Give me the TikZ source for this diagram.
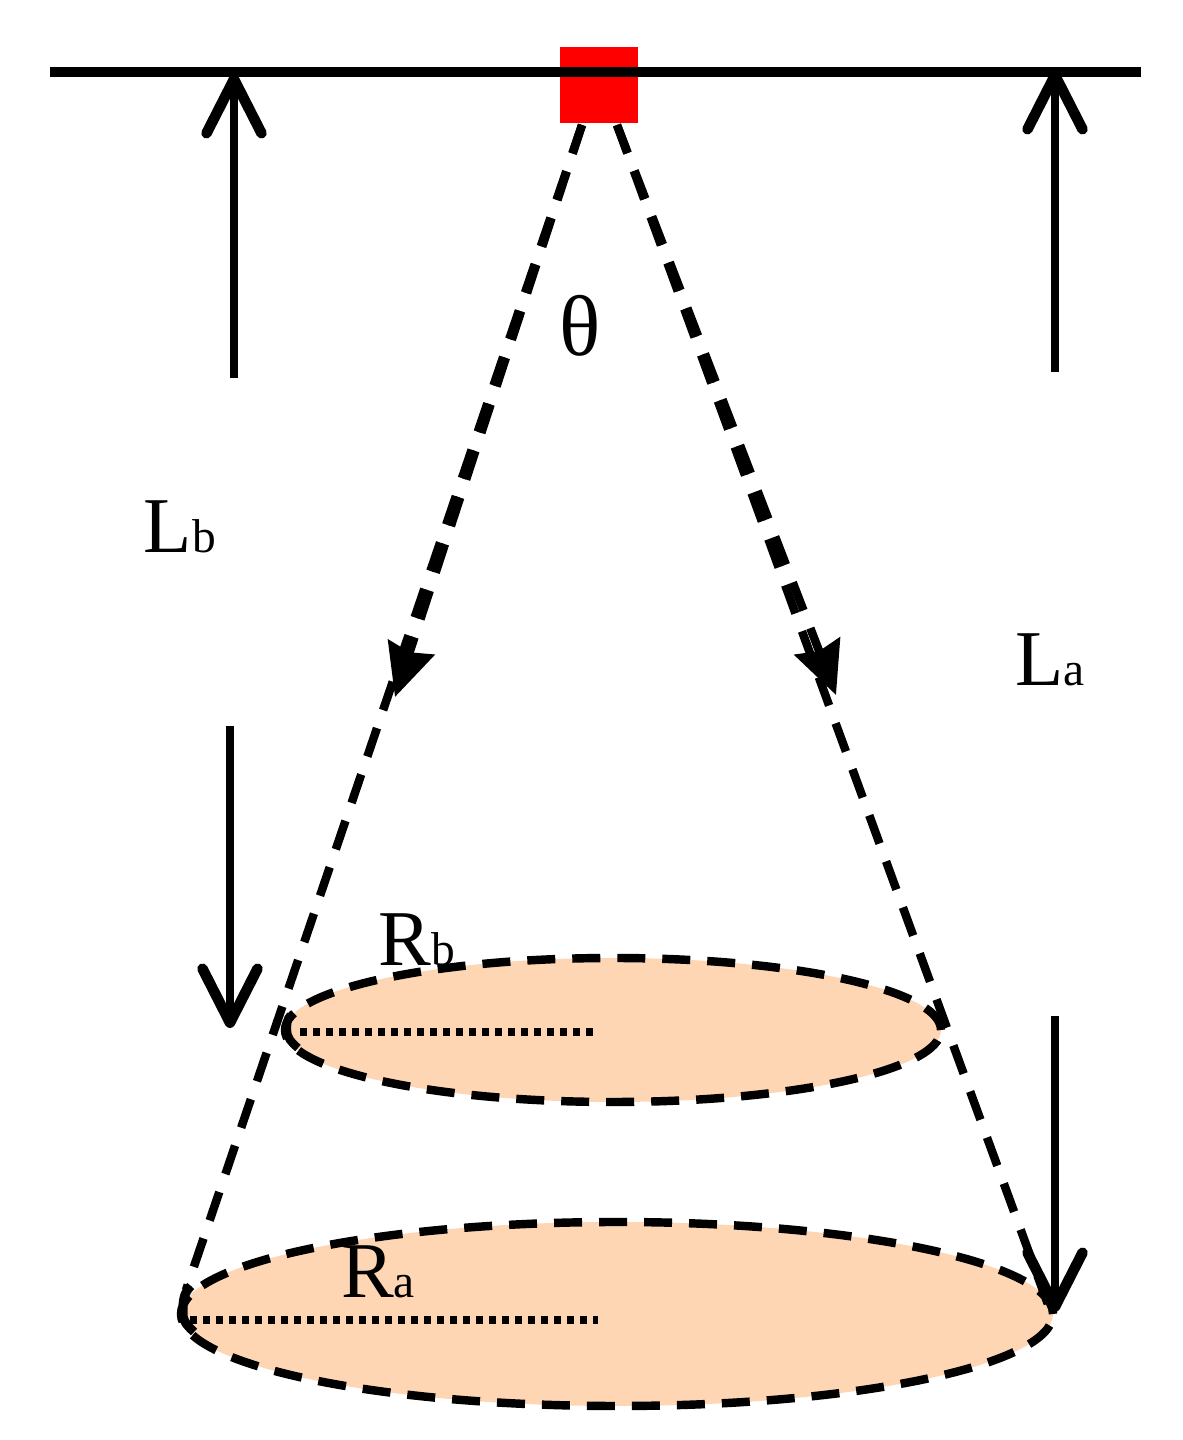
\documentclass[tikz,border=0pt]{standalone}
\usepackage{fontspec}
\setmainfont{Liberation Serif}
\usepackage{tikz}
\usetikzlibrary{arrows.meta,shapes.geometric}
\definecolor{spotfill}{HTML}{FED6B3}
\newcommand{\lab}[2]{{\fontsize{22.5}{24}\selectfont #1}{\fontsize{13.5}{15}\selectfont #2}}

\begin{document}
\begin{tikzpicture}
    \tikzset{
    ceiling/.style={line width=2.8pt},
    source/.style={rectangle,minimum width=0.78cm,minimum height=0.76cm,inner sep=0pt,fill=red},
    spot/.style={ellipse,inner sep=0pt,fill=spotfill,draw=black,line width=2.4pt,dash pattern=on 0.28cm off 0.17cm},
    ray/.style={line width=2.4pt,dash pattern=on 0.30cm off 0.19cm},
    rayhead/.style={ray,-{Stealth[length=0.52cm,width=0.48cm,inset=0.05cm]}},
    radius/.style={line width=2.3pt,dash pattern=on 0.07cm off 0.06cm},
    dist/.style={line width=2.4pt,-{Straight Barb[length=0.54cm,width=0.55cm,round,line width=3pt]}},
    lbl/.style={inner sep=0pt},
    }
    \useasboundingbox (0,0) rectangle (11.82,14.4);

    \node[spot,minimum width=6.56cm,minimum height=1.44cm] (Sb) at (6.13,4.10) {};
    \node[spot,minimum width=8.72cm,minimum height=1.84cm] (Sa) at (6.17,1.26) {};
    \draw[line width=2.4pt] (Sb.west) ++(0.10,0.15) to[out=225,in=90] (2.87,4.10) to[out=-90,in=140] (2.98,3.92);
    \draw[line width=2.6pt] (Sa.west) ++(0.14,0.28) to[out=225,in=90] (1.83,1.26) to[out=-90,in=135] (1.94,1.08);

    \node[source] (src) at (5.99,13.55) {};
    \coordinate (wl) at (0.50,13.68);
    \coordinate (wr) at (11.41,13.68);
    \draw[ceiling] (wl) -- (wr);

    \coordinate (rl) at (5.82,13.15);
    \coordinate (rr) at (6.17,13.15);
    \coordinate (hl) at (3.95,7.43);
    \coordinate (hr) at (8.36,7.45);
    \coordinate (el) at (1.86,1.50);
    \coordinate (er) at (10.50,1.30);
    \draw[rayhead] (rl) -- (hl);
    \draw[rayhead] (rr) -- (hr);
    \draw[ray] (rl) -- (el);
    \draw[ray] (rr) -- (er);

    \coordinate (rbl) at (3.00,4.08);
    \coordinate (rbc) at (5.93,4.08);
    \coordinate (ral) at (1.90,1.20);
    \coordinate (rac) at (5.98,1.20);
    \draw[radius] (rbl) -- (rbc);
    \draw[radius] (ral) -- (rac);

    \coordinate (lb1) at (2.34,10.62);
    \coordinate (lb2) at (2.34,13.66);
    \coordinate (lb3) at (2.30,7.14);
    \coordinate (lb4) at (2.30,4.12);
    \coordinate (la1) at (10.55,10.68);
    \coordinate (la2) at (10.55,13.70);
    \coordinate (la3) at (10.55,4.24);
    \coordinate (la4) at (10.55,1.28);
    \draw[dist] (lb1) -- (lb2);
    \draw[dist] (lb3) -- (lb4);
    \draw[dist] (la1) -- (la2);
    \draw[dist] (la3) -- (la4);

    \node[lbl,font=\fontsize{24.5}{26}\selectfont] (th) at (5.80,11.14) {θ};
    \node[lbl] (Lb) at (1.80,9.13) {\lab{L}{b}};
    \node[lbl] (La) at (10.50,7.80) {\lab{L}{a}};
    \node[lbl] (Rb) at (4.17,5.00) {\lab{R}{b}};
    \node[lbl] (Ra) at (3.78,1.68) {\lab{R}{a}};
\end{tikzpicture}
\end{document}
